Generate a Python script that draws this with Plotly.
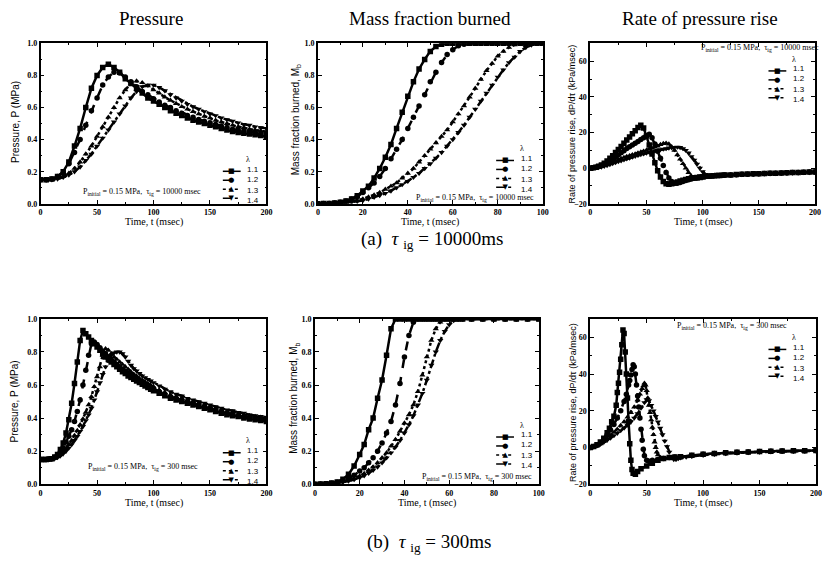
import plotly.graph_objects as go

W, H = 823, 567

# ---------------- data ----------------
lam_labels = ["1.1", "1.2", "1.3", "1.4"]

# (a) tau_ig = 10000 ms : pressure (MPa)
t_pa = [0, 5, 10, 15, 20, 25, 30, 35, 40, 45, 50, 55, 60, 65, 70, 75, 80, 85, 90, 95, 100,
        105, 110, 115, 120, 125, 130, 135, 140, 145, 150, 155, 160, 165, 170, 175, 180, 185, 190, 195, 200]
p_a_11 = [0.15, 0.15, 0.155, 0.17, 0.20, 0.26, 0.36, 0.47, 0.60, 0.72, 0.80, 0.85, 0.87, 0.85, 0.82, 0.78, 0.75, 0.72, 0.69, 0.66,
          0.64, 0.62, 0.60, 0.58, 0.565, 0.55, 0.535, 0.52, 0.51, 0.50, 0.49, 0.48, 0.47, 0.46, 0.45, 0.445, 0.44, 0.435, 0.43, 0.425, 0.42]
p_a_12 = [0.15, 0.15, 0.155, 0.17, 0.19, 0.25, 0.32, 0.40, 0.49, 0.58, 0.66, 0.74, 0.79, 0.82, 0.815, 0.79, 0.76, 0.73, 0.70, 0.68,
          0.655, 0.635, 0.615, 0.60, 0.58, 0.565, 0.55, 0.54, 0.525, 0.515, 0.505, 0.495, 0.485, 0.475, 0.465, 0.46, 0.455, 0.45, 0.445, 0.44, 0.435]
p_a_13 = [0.15, 0.15, 0.15, 0.16, 0.17, 0.19, 0.22, 0.26, 0.31, 0.36, 0.42, 0.48, 0.54, 0.60, 0.66, 0.71, 0.75, 0.765, 0.755, 0.735,
          0.71, 0.69, 0.665, 0.645, 0.625, 0.605, 0.59, 0.575, 0.56, 0.545, 0.535, 0.52, 0.51, 0.50, 0.49, 0.48, 0.475, 0.465, 0.46, 0.455, 0.45]
p_a_14 = [0.15, 0.15, 0.15, 0.155, 0.165, 0.18, 0.20, 0.23, 0.27, 0.31, 0.36, 0.41, 0.46, 0.51, 0.56, 0.61, 0.66, 0.70, 0.73, 0.74,
          0.74, 0.725, 0.705, 0.68, 0.66, 0.64, 0.62, 0.605, 0.59, 0.575, 0.56, 0.55, 0.535, 0.525, 0.515, 0.505, 0.495, 0.49, 0.48, 0.475, 0.47]

# (a) mass fraction burned
t_ma = [0, 2.5, 5, 7.5, 10, 12.5, 15, 17.5, 20, 22.5, 25, 27.5, 30, 32.5, 35, 37.5, 40, 42.5, 45, 47.5, 50,
        52.5, 55, 57.5, 60, 62.5, 65, 67.5, 70, 72.5, 75, 77.5, 80, 82.5, 85, 87.5, 90, 92.5, 95, 97.5, 100]
m_a_11 = [0, 0.001, 0.002, 0.005, 0.01, 0.018, 0.03, 0.05, 0.08, 0.11, 0.16, 0.22, 0.29, 0.37, 0.47, 0.57, 0.67, 0.76, 0.84, 0.90, 0.95,
          0.98, 0.995, 1.0, 1.0, 1.0, 1.0, 1.0, 1.0, 1.0, 1.0, 1.0, 1.0, 1.0, 1.0, 1.0, 1.0, 1.0, 1.0, 1.0, 1.0]
m_a_12 = [0, 0.001, 0.002, 0.005, 0.01, 0.017, 0.03, 0.045, 0.07, 0.10, 0.13, 0.17, 0.22, 0.28, 0.34, 0.40, 0.47, 0.54, 0.61, 0.68, 0.76,
          0.82, 0.88, 0.93, 0.96, 0.985, 0.995, 1.0, 1.0, 1.0, 1.0, 1.0, 1.0, 1.0, 1.0, 1.0, 1.0, 1.0, 1.0, 1.0, 1.0]
m_a_13 = [0, 0, 0.001, 0.003, 0.005, 0.01, 0.015, 0.022, 0.03, 0.042, 0.055, 0.07, 0.09, 0.11, 0.13, 0.16, 0.19, 0.22, 0.26, 0.30, 0.34,
          0.38, 0.42, 0.46, 0.51, 0.56, 0.61, 0.665, 0.72, 0.775, 0.83, 0.875, 0.92, 0.95, 0.975, 0.99, 1.0, 1.0, 1.0, 1.0, 1.0]
m_a_14 = [0, 0, 0.001, 0.002, 0.004, 0.007, 0.01, 0.015, 0.02, 0.03, 0.04, 0.052, 0.065, 0.08, 0.10, 0.12, 0.14, 0.165, 0.19, 0.22, 0.25,
          0.285, 0.32, 0.36, 0.40, 0.445, 0.49, 0.54, 0.59, 0.64, 0.69, 0.74, 0.79, 0.835, 0.88, 0.915, 0.95, 0.975, 0.99, 1.0, 1.0]

# (a) rate of pressure rise (kPa/msec)
t_ra = [0, 2.5, 5, 7.5, 10, 12.5, 15, 17.5, 20, 22.5, 25, 27.5, 30, 32.5, 35, 37.5, 40, 42.5, 45, 47.5, 50, 52.5, 55, 57.5, 60,
        62.5, 65, 67.5, 70, 72.5, 75, 77.5, 80, 82.5, 85, 87.5, 90, 92.5, 95, 97.5, 100, 102.5, 105, 107.5, 110, 112.5, 115, 117.5, 120,
        125, 130, 135, 140, 145, 150, 155, 160, 165, 170, 175, 180, 185, 190, 195, 200]
r_a_11 = [0, 0.2, 0.5, 1, 1.8, 2.8, 4, 5.5, 7, 8.8, 10.5, 12.2, 14, 15.8, 17.5, 19.3, 21, 22.8, 24, 22.5, 18, 13, 8, 3, -1.5,
          -5, -7.5, -8.8, -9, -8.8, -8.3, -7.8, -7.2, -6.8, -6.4, -6, -5.7, -5.4, -5.2, -5, -4.8, -4.6, -4.5, -4.4, -4.3, -4.2, -4.1, -4, -3.9,
          -3.8, -3.6, -3.5, -3.3, -3.2, -3.1, -3, -2.9, -2.8, -2.7, -2.6, -2.5, -2.4, -2.3, -2.2, -2.1]
r_a_12 = [0, 0.2, 0.5, 0.9, 1.5, 2.2, 3, 4, 5, 6.2, 7.4, 8.6, 9.8, 11, 12, 13, 14, 15, 16, 17, 18.2, 19, 17, 13.5, 9.5,
          5.5, 1.5, -2.5, -5.5, -7.5, -8.5, -8.5, -8, -7.5, -7, -6.5, -6.1, -5.7, -5.4, -5.1, -4.9, -4.7, -4.5, -4.4, -4.3, -4.2, -4.1, -4, -3.9,
          -3.8, -3.7, -3.5, -3.4, -3.3, -3.1, -3, -2.9, -2.8, -2.7, -2.6, -2.5, -2.4, -2.3, -2.2, -2.1]
r_a_13 = [0, 0.1, 0.3, 0.6, 1, 1.5, 2, 2.7, 3.4, 4.1, 4.8, 5.4, 6, 6.5, 7, 7.5, 8, 8.5, 9, 9.5, 10, 10.6, 11.2, 11.8, 12.4,
          13.2, 13.8, 14, 13.5, 12, 10, 7.5, 5, 2.5, 0, -2.5, -4.5, -5.8, -6.2, -6, -5.6, -5.2, -4.9, -4.7, -4.5, -4.3, -4.2, -4.1, -4,
          -3.8, -3.7, -3.6, -3.4, -3.3, -3.2, -3.1, -3, -2.9, -2.8, -2.7, -2.6, -2.5, -2.4, -2.3, -2.2]
r_a_14 = [0, 0.1, 0.2, 0.4, 0.7, 1.1, 1.5, 2, 2.6, 3.1, 3.7, 4.2, 4.7, 5.2, 5.7, 6.2, 6.7, 7.2, 7.7, 8.1, 8.5, 8.9, 9.3, 9.7, 10,
          10.4, 10.7, 11, 11.3, 11.5, 11.7, 11.8, 11.6, 11, 10, 8.5, 6.5, 4.5, 2.2, 0, -2, -3.5, -4.3, -4.5, -4.4, -4.3, -4.2, -4.1, -4,
          -3.9, -3.7, -3.6, -3.5, -3.4, -3.3, -3.2, -3.1, -3, -2.9, -2.8, -2.7, -2.6, -2.5, -2.4, -2.3]

# (b) tau_ig = 300 ms : pressure (MPa)
t_pb = [0, 2.5, 5, 7.5, 10, 12.5, 15, 17.5, 20, 22.5, 25, 27.5, 30, 32.5, 35, 37.5, 40, 42.5, 45, 47.5, 50,
        52.5, 55, 57.5, 60, 62.5, 65, 67.5, 70, 72.5, 75, 77.5, 80, 82.5, 85, 87.5, 90, 92.5, 95, 97.5, 100,
        105, 110, 115, 120, 125, 130, 135, 140, 145, 150, 155, 160, 165, 170, 175, 180, 185, 190, 195, 200]
p_b_11 = [0.15, 0.15, 0.15, 0.152, 0.155, 0.165, 0.18, 0.21, 0.25, 0.31, 0.39, 0.49, 0.61, 0.74, 0.87, 0.93, 0.91, 0.89, 0.87, 0.85,
          0.83, 0.81, 0.79, 0.77, 0.755, 0.74, 0.725, 0.71, 0.695, 0.68, 0.67, 0.655, 0.645, 0.635, 0.625, 0.615, 0.605, 0.595, 0.585, 0.575,
          0.565, 0.55, 0.535, 0.52, 0.51, 0.50, 0.49, 0.48, 0.47, 0.46, 0.45, 0.44, 0.43, 0.42, 0.415, 0.41, 0.40, 0.395, 0.39, 0.385, 0.38]
p_b_12 = [0.15, 0.15, 0.15, 0.152, 0.155, 0.163, 0.175, 0.195, 0.22, 0.255, 0.29, 0.33, 0.38, 0.44, 0.51, 0.60, 0.69, 0.78, 0.85, 0.86,
          0.845, 0.825, 0.805, 0.79, 0.77, 0.755, 0.74, 0.725, 0.71, 0.695, 0.685, 0.67, 0.66, 0.645, 0.635, 0.625, 0.615, 0.605, 0.595, 0.585,
          0.575, 0.56, 0.545, 0.53, 0.52, 0.51, 0.50, 0.49, 0.48, 0.47, 0.46, 0.45, 0.44, 0.43, 0.425, 0.415, 0.41, 0.405, 0.40, 0.395, 0.39]
p_b_13 = [0.15, 0.15, 0.15, 0.151, 0.153, 0.158, 0.166, 0.178, 0.195, 0.215, 0.24, 0.265, 0.295, 0.325, 0.36, 0.395, 0.435, 0.48, 0.53, 0.59,
          0.65, 0.71, 0.78, 0.82, 0.81, 0.79, 0.77, 0.755, 0.74, 0.725, 0.71, 0.695, 0.68, 0.665, 0.655, 0.64, 0.63, 0.62, 0.61, 0.60,
          0.59, 0.57, 0.555, 0.54, 0.53, 0.52, 0.51, 0.50, 0.49, 0.48, 0.47, 0.46, 0.45, 0.44, 0.435, 0.425, 0.42, 0.415, 0.41, 0.405, 0.40]
p_b_14 = [0.15, 0.15, 0.15, 0.151, 0.152, 0.156, 0.162, 0.172, 0.185, 0.20, 0.22, 0.24, 0.265, 0.29, 0.32, 0.35, 0.385, 0.42, 0.46, 0.51,
          0.56, 0.615, 0.665, 0.71, 0.75, 0.78, 0.795, 0.80, 0.80, 0.79, 0.77, 0.745, 0.72, 0.70, 0.685, 0.67, 0.655, 0.645, 0.635, 0.625,
          0.615, 0.595, 0.575, 0.56, 0.545, 0.535, 0.52, 0.51, 0.50, 0.49, 0.48, 0.47, 0.46, 0.45, 0.445, 0.435, 0.43, 0.42, 0.415, 0.41, 0.405]

# (b) mass fraction burned
t_mb = [0, 2.5, 5, 7.5, 10, 12.5, 15, 17.5, 20, 22, 24, 26, 28, 30, 32, 34, 36, 38, 40, 42, 44, 46, 48, 50,
        52, 54, 56, 58, 60, 62, 64, 66, 70, 75, 80, 85, 90, 95, 100]
m_b_11 = [0, 0.001, 0.003, 0.007, 0.014, 0.03, 0.06, 0.11, 0.18, 0.24, 0.33, 0.40, 0.52, 0.63, 0.78, 0.94, 1.0, 1.0, 1.0, 1.0,
          1.0, 1.0, 1.0, 1.0, 1.0, 1.0, 1.0, 1.0, 1.0, 1.0, 1.0, 1.0, 1.0, 1.0, 1.0, 1.0, 1.0, 1.0, 1.0]
m_b_12 = [0, 0.001, 0.003, 0.006, 0.012, 0.022, 0.035, 0.055, 0.08, 0.10, 0.13, 0.16, 0.20, 0.25, 0.31, 0.38, 0.48, 0.61, 0.77, 0.90,
          0.98, 1.0, 1.0, 1.0, 1.0, 1.0, 1.0, 1.0, 1.0, 1.0, 1.0, 1.0, 1.0, 1.0, 1.0, 1.0, 1.0, 1.0, 1.0]
m_b_13 = [0, 0.001, 0.002, 0.005, 0.01, 0.016, 0.024, 0.035, 0.05, 0.065, 0.085, 0.105, 0.13, 0.16, 0.19, 0.23, 0.27, 0.32, 0.37, 0.42,
          0.48, 0.56, 0.66, 0.77, 0.87, 0.94, 0.98, 1.0, 1.0, 1.0, 1.0, 1.0, 1.0, 1.0, 1.0, 1.0, 1.0, 1.0, 1.0]
m_b_14 = [0, 0, 0.001, 0.003, 0.007, 0.012, 0.019, 0.028, 0.04, 0.052, 0.067, 0.085, 0.105, 0.13, 0.16, 0.19, 0.225, 0.265, 0.31, 0.36,
          0.415, 0.48, 0.55, 0.63, 0.72, 0.80, 0.87, 0.925, 0.965, 0.99, 1.0, 1.0, 1.0, 1.0, 1.0, 1.0, 1.0, 1.0, 1.0]

# (b) rate of pressure rise (kPa/msec)
t_rb_11 = [0, 3, 6, 9, 12, 15, 17, 19, 21, 23, 24, 25, 26, 27, 28, 29, 30, 31, 32, 33, 34, 35, 36, 37, 38, 40, 42, 45,
           50, 55, 60, 65, 70, 75, 80, 90, 100, 110, 120, 130, 140, 150, 160, 170, 180, 190, 200]
r_b_11 = [0, 0.5, 1.5, 3, 5, 8, 10.5, 14, 17, 23, 30, 35, 41, 48, 56, 64, 62, 52, 40, 27, 14, 2, -7, -12, -14, -14.5, -13, -11.5,
          -10, -8.5, -7, -6, -5.5, -5.2, -5, -4.2, -3.6, -3.2, -2.9, -2.6, -2.4, -2.2, -2, -1.9, -1.8, -1.7, -1.6]
t_rb_12 = [0, 3, 6, 9, 12, 15, 18, 21, 24, 27, 30, 32, 34, 35, 36, 37, 38, 39, 40, 41, 42, 43, 44, 45, 46, 47, 48, 50, 52, 55,
           60, 65, 70, 75, 80, 90, 100, 110, 120, 130, 140, 150, 160, 170, 180, 190, 200]
r_b_12 = [0, 0.5, 1.2, 2.5, 4.5, 7, 9.5, 12.5, 16, 20, 25, 29, 34, 36.5, 39.5, 42.5, 45, 44, 40, 34, 28, 22, 16, 10, 4, -1, -4.5,
          -7, -7.5, -7, -6.5, -6, -5.5, -5.2, -5, -4.3, -3.7, -3.2, -2.9, -2.6, -2.4, -2.2, -2, -1.9, -1.8, -1.7, -1.6]
t_rb_13 = [0, 3, 6, 9, 12, 15, 18, 21, 24, 27, 30, 33, 36, 39, 42, 44, 46, 47, 48, 49, 50, 51, 52, 53, 54, 55, 56, 57, 58, 59, 60,
           62, 65, 70, 75, 80, 90, 100, 110, 120, 130, 140, 150, 160, 170, 180, 190, 200]
r_b_13 = [0, 0.4, 1, 2, 3.2, 4.8, 6.5, 8.2, 10, 12, 14, 16.5, 19, 22, 26, 29, 32, 33.5, 35, 34, 31, 27, 23, 19, 15, 11, 7, 3, 0, -2.5, -4,
          -5.5, -6, -5.8, -5.5, -5.2, -4.4, -3.8, -3.3, -3, -2.7, -2.5, -2.3, -2.1, -2, -1.9, -1.8, -1.7]
t_rb_14 = [0, 3, 6, 9, 12, 15, 18, 21, 24, 27, 30, 33, 36, 39, 42, 45, 48, 50, 52, 54, 56, 58, 60, 62, 64, 66, 68, 70, 72, 74, 76, 78, 80,
           85, 90, 100, 110, 120, 130, 140, 150, 160, 170, 180, 190, 200]
r_b_14 = [0, 0.4, 1, 1.8, 2.8, 4, 5.2, 6.5, 7.8, 9.2, 10.6, 12.2, 14, 16, 18.5, 21.5, 24.5, 26, 25.5, 23, 20, 17, 14, 10.5, 7, 3.5, 0.5,
          -2.5, -5, -6.5, -6.5, -6, -5.6, -5.2, -4.8, -4.2, -3.7, -3.3, -3, -2.7, -2.5, -2.3, -2.1, -2, -1.9, -1.8]

# ---------------- styling ----------------
symbols = ["square", "circle", "triangle-up", "triangle-down"]
dashes = ["solid", "dash", "dot", "dashdot"]
glyphs = ["\u25A0", "\u25CF", "\u25B2", "\u25BC"]
SERIF = "Liberation Serif"
SANS = "Liberation Sans"


def fx(p):
    return p / W


def fy(p):
    return 1 - p / H


# panel pixel boxes: (left, right, top, bottom)
boxes = {
    1: (39, 267, 40, 203), 2: (319, 546, 40, 203), 3: (594, 821, 40, 203),
    4: (39, 267, 320, 488), 5: (316, 542, 320, 488), 6: (594, 822, 320, 488),
}

panel_data = {
    1: [(t_pa, p_a_11), (t_pa, p_a_12), (t_pa, p_a_13), (t_pa, p_a_14)],
    2: [(t_ma, m_a_11), (t_ma, m_a_12), (t_ma, m_a_13), (t_ma, m_a_14)],
    3: [(t_ra, r_a_11), (t_ra, r_a_12), (t_ra, r_a_13), (t_ra, r_a_14)],
    4: [(t_pb, p_b_11), (t_pb, p_b_12), (t_pb, p_b_13), (t_pb, p_b_14)],
    5: [(t_mb, m_b_11), (t_mb, m_b_12), (t_mb, m_b_13), (t_mb, m_b_14)],
    6: [(t_rb_11, r_b_11), (t_rb_12, r_b_12), (t_rb_13, r_b_13), (t_rb_14, r_b_14)],
}

kind = {1: "p", 2: "m", 3: "r", 4: "p", 5: "m", 6: "r"}

fig = go.Figure()

for k in range(1, 7):
    xa = "x" if k == 1 else f"x{k}"
    ya = "y" if k == 1 else f"y{k}"
    for i, (tt, vv) in enumerate(panel_data[k]):
        fig.add_trace(go.Scatter(
            x=tt, y=vv, mode="lines+markers", xaxis=xa, yaxis=ya, showlegend=False,
            line=dict(color="black", width=2.5, dash=dashes[i]),
            marker=dict(symbol=symbols[i], size=5.5, color="black"),
            name=lam_labels[i]))

layout = dict(width=W, height=H, margin=dict(l=0, r=0, t=0, b=0),
              paper_bgcolor="white", plot_bgcolor="white", showlegend=False)

tickfont = dict(family=SERIF, size=8, color="black", weight="bold")
for k in range(1, 7):
    l, r, t, b = boxes[k]
    xk = "xaxis" if k == 1 else f"xaxis{k}"
    yk = "yaxis" if k == 1 else f"yaxis{k}"
    xa = "x" if k == 1 else f"x{k}"
    ya = "y" if k == 1 else f"y{k}"
    if kind[k] == "m":
        xr, xd, xm = [0, 100], 20, 10
    else:
        xr, xd, xm = [0, 200], 50, 25
    if kind[k] == "r":
        yr, yd, ym, yf, tick0 = [-20, 70], 20, 10, "", -20
    else:
        yr, yd, ym, yf, tick0 = [0, 1], 0.2, 0.1, ".1f", 0
    common = dict(showgrid=False, zeroline=False, showline=True, linecolor="black", linewidth=1.6,
                  mirror="ticks", ticks="inside", ticklen=4, tickwidth=1, tickcolor="black",
                  tickfont=tickfont)
    layout[xk] = dict(domain=[fx(l), fx(r)], anchor=ya, range=xr, dtick=xd, tick0=0,
                      minor=dict(ticks="inside", ticklen=2, tickcolor="black", dtick=xm, showgrid=False), **common)
    layout[yk] = dict(domain=[fy(b), fy(t)], anchor=xa, range=yr, dtick=yd, tick0=tick0, tickformat=yf,
                      minor=dict(ticks="inside", ticklen=2, tickcolor="black", dtick=ym, showgrid=False), **common)

fig.update_layout(**layout)

ann = []
shapes = []


def add_text(x, y, text, size, family=SERIF, xanchor="center", angle=0):
    ann.append(dict(x=fx(x), y=fy(y), xref="paper", yref="paper", text=text, showarrow=False,
                    xanchor=xanchor, yanchor="middle", textangle=angle,
                    font=dict(family=family, size=size, color="black")))


# column titles
add_text(150, 15, "Pressure", 19)
add_text(432, 15, "Mass fraction burned", 19)
add_text(705, 15, "Rate of pressure rise", 19)

# captions
add_text(434, 240, "(a)  <i>\u03c4</i> <sub>ig</sub> = 10000ms", 19)
add_text(431, 548, "(b)  <i>\u03c4</i> <sub>ig</sub> = 300ms", 19)

# axis titles
for k in range(1, 7):
    l, r, t, b = boxes[k]
    add_text((l + r) / 2, b + 19, "Time, t (msec)", 10)

ytitle_txt = {
    "p": ("Pressure, P (MPa)", 10),
    "m": ("Mass fraction burned, M<sub>b</sub>", 10),
    "r": ("Rate of pressure rise, dP/d\u03c4 (kPa/msec)", 9),
}
ytitle_pos = {1: (13, 120), 2: (297, 118), 3: (576, 122), 4: (13, 404), 5: (295, 401), 6: (576, 405)}
for k in range(1, 7):
    txt, sz = ytitle_txt[kind[k]]
    x, y = ytitle_pos[k]
    add_text(x, y, txt, sz, family=SANS, angle=-90)

# condition notes
notes = {
    1: (141, 191, "10000"), 2: (478, 197, "10000"), 3: (765, 45, "10000"),
    4: (142, 470, "300"), 5: (480, 481, "300"), 6: (737, 327, "300"),
}
for k, (x, y, tau) in notes.items():
    add_text(x, y, f"P<sub>initial</sub> = 0.15 MPa,  \u03c4<sub>ig</sub> = {tau} msec", 8)

# hand-drawn legends: (line x0, line x1, text x, lambda y, first entry y)
LSZ = 7
SP = 1.3 * LSZ
legends = {
    1: (223, 241, 245, 158, 170),
    2: (499, 517, 522, 147, 159),
    3: (774, 792, 797, 56, 68),
    4: (223, 241, 245, 444, 456),
    5: (499, 517, 522, 428, 440),
    6: (774, 792, 797, 339, 351),
}
for k, (x0, x1, xt, ylam, y0) in legends.items():
    add_text(xt + 3, ylam, "\u03bb", 8)
    yc = y0 + 1.5 * SP
    for i in range(4):
        yy = y0 + i * SP
        shapes.append(dict(type="line", xref="paper", yref="paper", x0=fx(x0), x1=fx(x1), y0=fy(yy), y1=fy(yy),
                           line=dict(color="black", width=1.5, dash=dashes[i])))
    add_text((x0 + x1) / 2, yc, "<br>".join(glyphs), LSZ, family="DejaVu Sans")
    add_text(xt, yc, "<br>".join(lam_labels), LSZ + 1, family=SANS, xanchor="left")

fig.update_layout(annotations=ann, shapes=shapes)
fig.write_html("out.html")
